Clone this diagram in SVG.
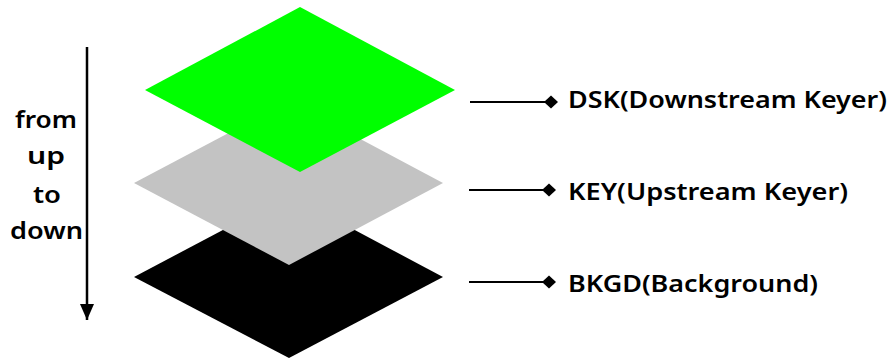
<svg xmlns="http://www.w3.org/2000/svg" width="894" height="361" viewBox="0 0 894 361">
<defs>
<style>
text{font-family:"Noto Sans","Open Sans","DejaVu Sans",sans-serif;font-size:24px;font-weight:600;fill:#000}
.ln{stroke:#000;stroke-width:2;fill:none}
</style>
<marker id="dia" viewBox="0 0 14 14" refX="13" refY="7" markerWidth="14" markerHeight="14" markerUnits="userSpaceOnUse" orient="auto">
<path d="M0,7 L7,0.5 L14,7 L7,13.5 Z" fill="#000"/>
</marker>
<marker id="arr" viewBox="0 0 16 14" refX="16" refY="7" markerWidth="16" markerHeight="14" markerUnits="userSpaceOnUse" orient="auto">
<path d="M0,0 L16,7 L0,14 Z" fill="#000"/>
</marker>
</defs>
<rect width="894" height="361" fill="#fff"/>
<g id="bkgd"><polygon points="134,277 289,195 443,277 289,358" fill="#000"/></g>
<g id="key"><polygon points="134,183 289,101 443,183 289,265" fill="#c3c3c3"/></g>
<g id="dsk"><polygon points="145,90 300,7 455,90 300,172" fill="#00ff00"/></g>
<g id="direction">
<line x1="87" y1="47" x2="87" y2="320" stroke="#000" stroke-width="2.5" marker-end="url(#arr)"/>
<text x="15" y="128" textLength="62" lengthAdjust="spacingAndGlyphs">from</text>
<text x="27" y="164" textLength="38" lengthAdjust="spacingAndGlyphs">up</text>
<text x="33" y="203" textLength="28" lengthAdjust="spacingAndGlyphs">to</text>
<text x="10" y="239" textLength="73" lengthAdjust="spacingAndGlyphs">down</text>
</g>
<g id="connectors">
<line class="ln" x1="470" y1="102" x2="557" y2="102" marker-end="url(#dia)"/>
<line class="ln" x1="469" y1="190" x2="555" y2="190" marker-end="url(#dia)"/>
<line class="ln" x1="469" y1="282" x2="555" y2="282" marker-end="url(#dia)"/>
</g>
<g id="labels">
<text x="568" y="108" textLength="319" lengthAdjust="spacingAndGlyphs">DSK(Downstream Keyer)</text>
<text x="568" y="200" textLength="280" lengthAdjust="spacingAndGlyphs">KEY(Upstream Keyer)</text>
<text x="568" y="292" textLength="250" lengthAdjust="spacingAndGlyphs">BKGD(Background)</text>
</g>
</svg>
